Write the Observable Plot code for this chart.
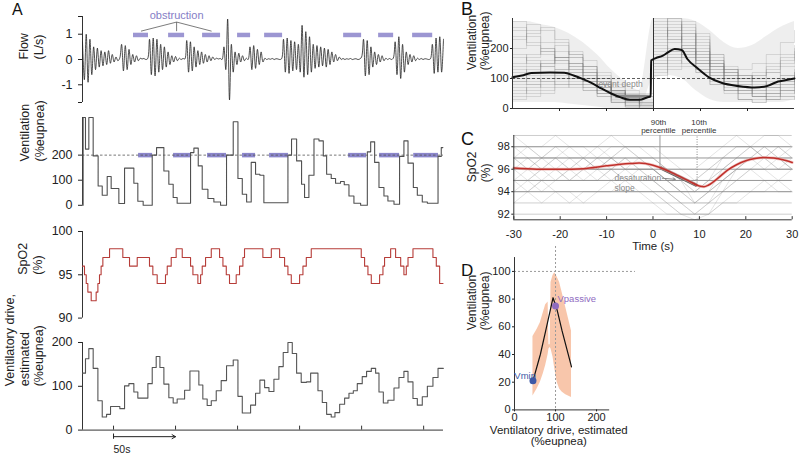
<!DOCTYPE html>
<html><head><meta charset="utf-8">
<script src="https://cdn.jsdelivr.net/npm/d3@7"></script>
<script src="https://cdn.jsdelivr.net/npm/@observablehq/plot@0.6"></script>
<style>
body{margin:0;background:#fff;}
#fig{position:relative;width:800px;height:454px;overflow:hidden;background:#fff;font-family:"Liberation Sans",Arial,sans-serif;}
.panel{position:absolute;}
.letter{position:absolute;color:#111;font-family:"Liberation Sans",Arial,sans-serif;line-height:1;}
</style></head><body><div id="fig"></div>
<script>
// ---------------- DATA ----------------
// Panel A: time (s) axis
const timeTicks = [25, 75, 125, 175, 225, 275];
const scaleBar = {t0: 25, t1: 75, label: "50s"};
const flowStep = 1.5;
const flowV = [
 0.7,-0.8,1.0,-0.9,0.8,
 -0.6,0.5,-0.4,0.45,-0.3,0.35,-0.25,0.3,-0.2,0.35,-0.15,0.2,-0.1,0.1,-0.05,
 0.05,0.6,-0.45,0.55,-0.4,0.4,-0.2,
 0.2,-0.1,0.15,-0.05,0.05,0.02,0.04,0.0,0.03,
 0.8,-0.6,0.85,-0.65,0.8,-0.5,0.6,-0.4,0.5,
 -0.3,0.3,-0.2,0.15,-0.1,0.12,-0.05,0.05,0.0,0.04,0.02,
 0.75,-0.5,0.7,-0.45,0.5,
 -0.3,0.35,-0.2,0.3,-0.15,0.2,-0.1,0.15,-0.05,0.1,0.0,0.05,0.02,0.04,0.0,
 0.5,-0.4,1.6,-1.6,0.6,-0.5,
 0.3,-0.2,0.25,-0.1,0.15,-0.05,0.05,0.0,
 0.5,-0.4,0.55,-0.35,0.4,-0.2,0.3,
 -0.1,0.05,0.0,0.03,0.01,0.04,0.0,0.03,0.02,0.0,0.03,
 0.8,-0.5,0.85,-0.55,0.75,-0.45,0.7,-0.4,0.6,-0.5,
 1.35,-0.7,1.1,-0.6,0.9,-0.5,0.6,-0.35,0.55,-0.3,0.5,-0.25,0.45,-0.3,0.4,-0.2,0.3,-0.1,0.2,-0.05,0.1,
 0.0,0.04,0.0,0.03,0.01,0.04,0.0,0.02,0.03,0.0,0.02,0.1,
 0.8,-0.65,0.75,-0.6,0.5,-0.3,
 0.3,-0.2,0.2,-0.1,0.15,-0.05,0.05,0.0,0.04,0.0,0.05,
 0.7,-0.6,0.9,-0.75,0.6,-0.5,0.3,
 -0.2,0.2,-0.1,0.15,-0.05,0.05,0.0,0.04,0.0,0.03,0.02,0.0,0.03,
 0.6,-0.55,0.85,-0.5,0.9,-0.5,0.8
];
const flowTicks = [-1, 0, 1];
const obsLabel = "obstruction";
const obsFlow = [[41.1,53.2],[69.4,82.3],[96.8,111.3],[125,135.5],[146.8,161.3],[210.5,225],[238.7,250.8],[266.1,282.3]];
const obsVent = [[45.2,56.5],[73.4,87.1],[100.8,116.1],[129,139.5],[150.8,166.1],[214.5,229],[239.5,255.6],[267,287]];
// Ventilation (%eupnea), step changes
const ventTicks = [0, 100, 200];
const ventThreshold = 200;
const ventT = [0,0.5,2.4,5.1,8.6,12.6,15.9,19.9,23.1,29.3,33.9,41.4,44.6,48.9,56.2,59.7,65.6,69.6,73.1,76.3,87.1,89.8,93.3,96.5,101.1,105.9,111.3,116.1,121.5,125.3,128.8,132.3,136.0,139.5,143.0,146.2,165.6,168.5,172.6,176.6,179.0,182.5,186.6,190.6,194.1,196.8,200.5,204.0,208.0,211.0,214.8,218.8,224.2,229.6,232.3,235.5,239.0,243.0,246.2,251.1,255.6,259.1,262.4,266.7,269.9,273.9,278.0,286.6,289.2,290.5];
const ventV = [0,350,224,350,197,77,40,115,67,7,148,88,16,0,200,230,137,84,31,8,210,228,157,64,27,13,0,200,333,107,44,13,171,124,120,10,200,264,177,84,31,120,264,257,197,124,107,88,95,82,37,8,0,213,253,171,71,37,17,4,195,257,168,71,40,13,8,195,230,230];
// SpO2 (%)
const spo2Ticks = [90, 95, 100];
const spo2T = [0,1.6,3.0,4.3,7.0,11.0,12.4,13.7,15.0,16.4,21.8,32.5,37.9,44.1,54.0,56.7,60.2,66.9,68.3,71.5,75.5,80.4,87.1,89.0,93.0,95.2,96.5,99.2,103.8,110.5,113.2,115.9,118.5,123.9,126.6,129.3,130.6,145.4,152.2,158.9,162.9,165.6,168.3,175.0,177.7,180.4,184.4,224.7,227.4,230.1,232.8,239.5,242.2,243.5,248.4,252.4,256.5,259.1,261.0,262.4,266.4,282.5,285.2,287.9,290.6];
const spo2V = [96,95,94,93,92,93,94,95,96,97,98,97,96,97,96,95,94,95,96,97,98,97,96,95,94,95,96,97,98,97,96,95,94,95,96,97,98,97,98,97,96,95,94,95,96,97,98,97,96,95,94,95,96,97,98,97,96,95,96,97,98,97,96,94,94];
// Ventilatory drive, estimated (%eupnea)
const driveTicks = [0, 100, 200];
const driveT = [0,2.4,5.1,8.6,12.4,15.9,19.4,22.6,30.1,33.9,37.4,41.4,44.6,52.7,56.2,59.4,62.4,65.6,69.6,73.1,76.3,82.3,86.6,93.8,97.0,100.5,103.8,107.8,111.8,116.1,121.5,125.3,128.8,135.5,139.5,143.0,146.8,150.3,154.3,158.3,161.8,165.6,169.1,172.6,176.3,180.6,183.9,189.8,193.3,196.8,200.5,203.5,207.3,211.3,214.8,218.3,221.5,225.5,229.0,232.8,236.3,239.0,242.5,246.2,251.1,255.1,259.1,262.4,266.4,269.9,273.9,278.0,282.5,286.6,290.9];
const driveV = [130,163,186,141,67,30,36,54,49,101,106,87,73,106,143,168,143,105,74,62,71,91,135,103,71,56,67,90,113,147,160,77,39,57,84,114,97,88,116,145,177,200,175,130,109,110,130,90,63,36,30,40,59,73,84,90,106,122,134,141,130,87,62,68,96,120,134,110,72,57,76,100,120,141,141];

// Panels B & C: event-aligned time grid (s)
const traceT = [-30,-27,-24,-21,-18,-15,-12,-9,-6,-3,0,3,6,9,12,15,18,21,24,27,30];
const eventOnset = 0;
const eupnea = 100;
const bYTicks = [0, 100, 200];
const bXTicks = [-20, -10, 0, 10, 20];
const bTraces = [
 [150,180,200,160,120,90,60,30,15,5,250,290,230,150,110,80,60,50,70,100,130],
 [90,110,140,170,150,120,80,40,20,10,160,200,240,200,140,100,70,40,30,50,70],
 [260,220,180,150,130,100,70,45,25,15,290,300,200,120,90,70,80,100,120,110,90],
 [60,80,100,120,140,110,90,60,30,20,130,170,210,250,180,120,80,50,40,60,80],
 [120,140,160,130,100,80,50,20,5,0,220,250,200,150,100,60,30,20,40,60,90],
 [200,250,270,230,180,140,100,60,40,25,180,220,270,240,160,110,100,120,150,180,210],
 [40,60,80,100,120,100,80,60,50,40,140,160,150,120,80,60,50,60,80,100,120],
 [290,260,220,170,130,90,50,20,5,0,240,280,260,190,130,80,50,40,60,80,110],
 [100,90,110,130,150,140,110,80,60,50,170,190,210,180,150,130,110,90,80,90,100],
 [80,120,150,190,170,130,90,50,25,10,300,260,220,160,100,60,30,20,30,40,60],
 [170,150,140,120,100,70,40,20,10,5,150,180,200,170,140,110,90,110,140,170,190],
 [130,100,90,80,70,60,50,35,25,15,190,230,250,220,180,140,100,70,50,40,30],
 [230,280,260,220,170,120,80,45,30,20,260,240,190,130,80,50,30,30,50,70,90],
 [70,50,60,80,90,80,70,55,45,35,120,150,170,160,140,120,130,150,180,220,260],
 [180,160,120,100,80,60,40,25,10,5,200,260,280,210,150,90,60,40,50,80,120],
 [50,70,90,110,100,90,70,50,30,20,110,140,180,190,160,130,110,100,120,150,180],
 [270,240,200,160,140,110,80,50,30,10,270,230,180,140,120,100,90,80,90,110,140],
 [110,130,150,170,190,160,120,70,40,25,230,270,290,230,170,120,70,40,30,30,40],
 [30,40,50,70,80,70,60,45,35,30,100,130,140,130,110,90,70,60,70,90,110],
 [240,210,190,170,150,120,90,60,35,15,210,190,170,150,130,110,100,110,130,160,200],
 [140,170,190,210,180,140,100,55,20,0,280,300,250,180,120,80,60,70,100,140,170],
 [90,80,70,90,110,100,80,60,45,40,150,170,190,170,150,130,110,90,70,60,50]
];
const bHazeLo = [20,20,20,20,15,10,5,0,0,0,100,110,100,60,30,20,20,20,20,20,30];
const bHazeHi = [290,290,280,270,250,220,180,130,90,60,300,300,300,290,260,220,200,210,240,270,290];
const bMeanT = [-30,-28,-26,-22,-19,-17,-15,-13,-11,-9,-7,-5,-3,-1.5,-0.6,-0.5,0.5,2,3,4.5,6,7.2,9.3,11.8,14.6,18,21.5,24,25,26.5,28,30];
const bMeanV = [104,110,118,120,119,110,98,84,66,50,37,29,29,36,41,160,168,176,186,198,195,165,135,104,85,75,70,74,80,90,94,100];
const eventDepth = {t0: -8, t1: -0.4, v: 41, label: "event depth"};

const cYTicks = [92, 94, 96, 98];
const cXTicks = [-30, -20, -10, 0, 10, 20, 30];
const spo2Levels = [92, 93, 94, 95, 96, 97, 98, 99];
const cTraces = [
 [97,98,97,98,97,97,98,97,98,97,97,96,95,94,95,96,97,98,97,98,97],
 [96,95,96,96,95,96,96,97,96,96,95,94,93,92,93,95,96,97,97,96,96],
 [95,96,95,95,96,95,96,96,97,96,96,95,94,93,94,95,96,96,97,97,96],
 [98,97,97,98,98,97,97,98,98,98,97,96,96,95,96,97,98,98,98,97,98],
 [94,95,94,95,95,96,95,96,95,95,94,93,92,92,93,94,95,96,96,95,95],
 [97,96,96,97,96,96,97,96,97,97,96,95,94,94,95,97,97,98,97,97,97],
 [96,97,96,96,97,97,96,97,96,96,96,95,95,93,94,96,97,97,98,98,97],
 [93,94,93,94,94,93,94,95,94,94,93,92,92,91.5,92,93,94,94,95,94,94],
 [99,98,98,99,98,98,98,99,98,98,98,97,96,96,97,98,99,98,99,99,98],
 [95,95,96,95,96,96,96,95,96,96,96,95,94,93,93,94,96,97,96,96,96],
 [97,97,96,97,97,96,97,97,96,97,96,95,94,94,95,96,97,97,97,96,97],
 [98,98,97,97,98,98,97,97,98,97,97,96,95,95,96,97,98,98,97,98,98],
 [96,96,97,96,96,97,96,96,96,95,95,94,93,93,94,95,96,96,96,97,96],
 [95,94,95,96,95,95,95,96,95,96,95,94,93,92,92,94,95,96,95,95,96],
 [97,96,97,97,96,97,96,97,97,96,96,95,95,94,94,95,96,97,98,97,96],
 [94,94,95,94,93,94,94,94,95,94,94,93,92,92,92,93,93,94,94,95,94]
];
const cMeanT = [-30,-25,-20,-15,-10,-5,-3,0,1.5,5,8,10,11,12,14,16,18,20,22,24,26,28,30];
const cMeanV = [96.1,96.0,96.0,96.05,96.3,96.5,96.55,96.35,96.15,95.5,94.9,94.5,94.45,94.6,95.2,95.9,96.4,96.75,96.95,97.05,97.0,96.85,96.6];
const pct90 = {t: 1.5, v: 96.15, label: "90th\npercentile"};
const pct10 = {t: 9.5, v: 94.55, label: "10th\npercentile"};
const desatNote = {t: -8.3, v: 94.78, label: "desaturation\nslope", arrowFrom: [2.0, 95.2], arrowTo: [4.8, 95.1]};

// Panel D
const dXTicks = [0, 100, 200];
const dYTicks = [0, 20, 40, 60, 80, 100];
const dXMax = 232, dYMax = 110;
const dLineDrive = [45, 63, 76, 94, 104, 116, 139];
const dLineVent = [21, 40, 57, 81, 72, 57, 31];
const dBandDrive = [45,55,63,70,76,82,84,87,89,94,98,104,110,116,125,139];
const dBandLo = [10,15,20,26,32,40,44,45,44,38,30,20,15,13,11,9];
const dBandHi = [53,58,63,70,76,78,47,47,92,97,99,96,92,85,74,57];
const vmin = {d: 45, v: 21, label: "Vmin"};
const vpassive = {d: 100, v: 75, label: "Vpassive"};

// ---------------- STYLE ----------------
const FONT = '"Liberation Sans", Arial, Helvetica, sans-serif';
const OBS = "#9c96d2", OBS2 = "#8b86cb", RED = "#b63c38", BLUE = "#3d59a6", PURPLE = "#8f6bbf";
const AX = "#333";

const fig = document.getElementById("fig");
function panel([x0, x1, y0, y1], [l, t, r, b], opts) {
  const width = x1 - x0 + l + r, height = y1 - y0 + t + b;
  const {fontSize = 12, ...rest} = opts;
  const svg = Plot.plot({
    width, height, marginLeft: l, marginRight: r, marginTop: t, marginBottom: b,
    style: {background: "transparent", overflow: "visible", fontFamily: FONT, fontSize: fontSize + "px", color: "#222"},
    ...rest
  });
  const div = document.createElement("div");
  div.className = "panel";
  Object.assign(div.style, {left: (x0 - l) + "px", top: (y0 - t) + "px", width: width + "px", height: height + "px"});
  div.appendChild(svg);
  fig.appendChild(div);
}
function letter(txt, left, top, size) {
  const s = document.createElement("div");
  s.className = "letter"; s.textContent = txt;
  Object.assign(s.style, {left: left + "px", top: top + "px", fontSize: size + "px"});
  fig.appendChild(s);
}

const fmt = d => String(d);
const flowRows = flowV.map((v, i) => ({t: i * flowStep, v}));
const ventRows = ventT.map((t, i) => ({t, v: ventV[i]}));
const spo2Rows = spo2T.map((t, i) => ({t, v: spo2V[i]}));
const driveRows = driveT.map((t, i) => ({t, v: driveV[i]}));
const labelT = (obsFlow[1][0] + obsFlow[1][1]) / 2;
const aYlab = {frameAnchor: "left", rotate: -90, fontSize: 12.5, fill: "#222"};

// ---- A: Flow ----
panel([82, 443, 16, 102], [82, 16, 17, 8], {
  x: {domain: [0, 291], axis: null},
  y: {domain: [-1.7, 1.7]},
  marks: [
    Plot.ruleX([0], {stroke: AX}),
    Plot.axisY({ticks: [-1.7, ...flowTicks, 1.7], tickFormat: d => flowTicks.includes(d) ? fmt(d) : "", tickSize: 4, tickPadding: 6, fontSize: 12.5, label: null}),
    Plot.line(flowRows, {x: "t", y: "v", stroke: "#222", strokeWidth: 0.8, curve: "catmull-rom"}),
    Plot.ruleY(obsFlow, {x1: d => d[0], x2: d => d[1], y: 0.97, stroke: OBS, strokeWidth: 4.5}),
    Plot.link(obsFlow.slice(0, 3), {x1: labelT, y1: 1.48, x2: d => (d[0] + d[1]) / 2, y2: 1.12, stroke: "#444", strokeWidth: 0.7}),
    Plot.text([obsLabel], {x: labelT, y: 1.76, text: d => d, fill: "#857dc6", fontSize: 11}),
    Plot.text(["Flow\n(L/s)"], {...aYlab, dx: -52, lineHeight: 1.2})
  ]
});

// ---- A: Ventilation ----
panel([82, 443, 116.5, 204.3], [82, 6, 17, 5], {
  x: {domain: [0, 291], axis: null},
  y: {domain: [0, 350]},
  marks: [
    Plot.ruleX([0], {stroke: AX}),
    Plot.axisY({ticks: ventTicks, tickSize: 4, tickPadding: 6, fontSize: 12.5, label: null, tickFormat: fmt}),
    Plot.ruleY(obsVent, {x1: d => d[0], x2: d => d[1], y: ventThreshold, stroke: OBS2, strokeWidth: 4.5}),
    Plot.ruleY([ventThreshold], {stroke: "#555", strokeDasharray: "2.5,2", strokeWidth: 0.8}),
    Plot.line(ventRows, {x: "t", y: "v", curve: "step-after", stroke: "#505050", strokeWidth: 1.1}),
    Plot.text(["Ventilation\n(%eupnea)"], {...aYlab, dx: -51, lineHeight: 1.2})
  ]
});

// ---- A: SpO2 ----
panel([82, 443, 230.7, 317.3], [82, 6, 17, 6], {
  x: {domain: [0, 291], axis: null},
  y: {domain: [90, 100]},
  marks: [
    Plot.ruleX([0], {stroke: AX}),
    Plot.axisY({ticks: spo2Ticks, tickSize: 4, tickPadding: 6, fontSize: 12.5, label: null, tickFormat: fmt}),
    Plot.line(spo2Rows, {x: "t", y: "v", curve: "step-after", stroke: RED, strokeWidth: 1.1}),
    Plot.text(["SpO2\n(%)"], {...aYlab, dx: -53, lineHeight: 1.2})
  ]
});

// ---- A: Drive ----
panel([82, 443, 341.7, 429.3], [82, 6, 17, 24], {
  x: {domain: [0, 291], axis: null},
  y: {domain: [0, 200]},
  marks: [
    Plot.ruleX([0], {y1: 0, y2: 200, stroke: AX}),
    Plot.ruleY([0], {stroke: AX}),
    Plot.ruleX(timeTicks, {y1: 0, y2: 9, stroke: AX}),
    Plot.axisY({ticks: driveTicks, tickSize: 4, tickPadding: 6, fontSize: 12.5, label: null, tickFormat: fmt}),
    Plot.line(driveRows, {x: "t", y: "v", curve: "step-after", stroke: "#555", strokeWidth: 1.1}),
    Plot.arrow([scaleBar], {x1: "t0", x2: "t1", y1: -15, y2: -15, stroke: "#222", strokeWidth: 1, headLength: 6}),
    Plot.ruleX([scaleBar.t0], {y1: -9, y2: -21, stroke: "#222"}),
    Plot.text([scaleBar], {x: "t0", y: -45, text: "label", textAnchor: "start", fontSize: 10.5, fill: "#222"}),
    Plot.text(["Ventilatory drive,\nestimated\n(%eupnea)"], {...aYlab, dx: -58.5, lineHeight: 1.15})
  ]
});

// ---- B ----
const bTraceRows = bTraces.flatMap((tr, k) => tr.map((v, i) => ({id: k, t: traceT[i], v})));
const bHazeRows = traceT.map((t, i) => ({t, lo: bHazeLo[i], hi: bHazeHi[i]}));
const bMeanRows = bMeanT.map((t, i) => ({t, v: bMeanV[i]}));
panel([512, 794, 18.3, 108.3], [52, 12, 6, 6], {
  fontSize: 11,
  x: {domain: [-30, 30]},
  y: {domain: [0, 300]},
  marks: [
    Plot.areaY(bHazeRows, {x: "t", y1: "lo", y2: "hi", fill: "#c8c8c8", fillOpacity: 0.3, curve: "monotone-x"}),
    Plot.line(bTraceRows, {x: "t", y: "v", z: "id", curve: "step-after", stroke: "#707070", strokeOpacity: 0.34, strokeWidth: 0.6}),
    Plot.ruleX([eventOnset], {stroke: "#333", strokeWidth: 1}),
    Plot.ruleY([eupnea], {stroke: "#333", strokeDasharray: "3,2", strokeWidth: 0.8}),
    Plot.ruleY([eventDepth], {x1: "t0", x2: "t1", y: "v", stroke: "#888", strokeWidth: 3}),
    Plot.line(bMeanRows, {x: "t", y: "v", stroke: "#111", strokeWidth: 2, curve: "monotone-x"}),
    Plot.text([eventDepth], {x: d => d.t0 + 1, y: d => d.v + 40, text: "label", fill: "#8a8a8a", fontSize: 8.5}),
    Plot.ruleX([-30], {stroke: AX}),
    Plot.ruleY([0], {stroke: AX}),
    Plot.axisY({ticks: bYTicks, tickSize: 2, tickPadding: 2, fontSize: 11, label: null, tickFormat: fmt}),
    Plot.axisX({ticks: bXTicks, tickSize: 3, tickFormat: () => "", label: null}),
    Plot.text(["Ventilation\n(%eupnea)"], {frameAnchor: "left", dx: -34, dy: 6.7, rotate: -90, fontSize: 12, lineHeight: 1.1, fill: "#222"})
  ]
});

// ---- C ----
const cTraceRows = cTraces.flatMap((tr, k) => tr.map((v, i) => ({id: k, t: traceT[i], v})));
const cMeanRows = cMeanT.map((t, i) => ({t, v: cMeanV[i]}));
panel([513.3, 791.7, 135, 219.3], [53.3, 20, 8.3, 35], {
  fontSize: 11,
  x: {domain: [-30, 30]},
  y: {domain: [91.5, 99]},
  marks: [
    Plot.ruleY(spo2Levels.filter(d => d >= 94 && d <= 98), {stroke: "#444", strokeOpacity: 0.7, strokeWidth: 0.8}),
    Plot.ruleY(spo2Levels.filter(d => d < 94 || d > 98), {stroke: "#666", strokeOpacity: 0.4, strokeWidth: 0.8}),
    Plot.line(cTraceRows, {x: "t", y: "v", z: "id", stroke: "#888", strokeOpacity: 0.38, strokeWidth: 0.6}),
    Plot.ruleX([pct90], {x: "t", y1: "v", y2: 99, stroke: "#999", strokeWidth: 1}),
    Plot.ruleX([pct10], {x: "t", y1: "v", y2: 99, stroke: "#888", strokeDasharray: "1,1.5"}),
    Plot.link([pct90], {x1: pct90.t, y1: pct90.v, x2: pct10.t, y2: pct10.v, stroke: "#555", strokeWidth: 3.5}),
    Plot.line(cMeanRows, {x: "t", y: "v", stroke: "#e9a9a5", strokeWidth: 3, curve: "monotone-x", strokeOpacity: 0.6}),
    Plot.line(cMeanRows, {x: "t", y: "v", stroke: "#c0302b", strokeWidth: 1.5, curve: "monotone-x"}),
    Plot.text([desatNote], {x: "t", y: "v", text: "label", textAnchor: "start", fill: "#8a8a8a", fontSize: 8.5, lineHeight: 1.1}),
    Plot.arrow([desatNote], {x1: d => d.arrowFrom[0], y1: d => d.arrowFrom[1], x2: d => d.arrowTo[0], y2: d => d.arrowTo[1], stroke: "#888", strokeWidth: 1, headLength: 4}),
    Plot.ruleX([-30], {stroke: AX}),
    Plot.ruleY([91.5], {stroke: AX}),
    Plot.ruleX(cXTicks, {y1: 91.5, y2: 91.78, stroke: AX}),
    Plot.axisY({ticks: cYTicks, tickSize: 2, tickPadding: 2, fontSize: 11, label: null, tickFormat: fmt}),
    Plot.axisX({ticks: cXTicks, tickSize: 0, tickPadding: 10, fontSize: 11, label: null, tickFormat: fmt}),
    Plot.text(["Time (s)"], {frameAnchor: "bottom", dy: 30, fontSize: 11.5, fill: "#222"}),
    Plot.text([pct90], {x: "t", y: 99, text: "label", lineAnchor: "bottom", dy: -2, dx: -1.5, fontSize: 8, lineHeight: 1.05, fill: "#333"}),
    Plot.text([pct10], {x: "t", y: 99, text: "label", lineAnchor: "bottom", dy: -2, dx: 2, fontSize: 8, lineHeight: 1.05, fill: "#333"}),
    Plot.text(["SpO2\n(%)"], {frameAnchor: "left", dx: -35, dy: 4.5, rotate: -90, fontSize: 12, lineHeight: 1.1, fill: "#222"})
  ]
});

// ---- D ----
const dLineRows = dLineDrive.map((d, i) => ({d, v: dLineVent[i]}));
const dBandRows = dBandDrive.map((d, i) => ({d, lo: dBandLo[i], hi: dBandHi[i]}));
panel([514, 635, 245.9, 409.3], [54, 10, 12, 42], {
  fontSize: 11,
  x: {domain: [0, 295]},
  y: {domain: [0, 118]},
  marks: [
    Plot.areaY(dBandRows, {x: "d", y1: "lo", y2: "hi", fill: "#f8c3a6", fillOpacity: 0.95}),
    Plot.ruleY([eupnea], {stroke: "#9a9a9a", strokeDasharray: "2,2"}),
    Plot.ruleX([eupnea], {stroke: "#9a9a9a", strokeDasharray: "2,2"}),
    Plot.ruleY([0], {x1: 0, x2: dXMax, stroke: AX}),
    Plot.ruleX([0], {y1: 0, y2: dYMax, stroke: AX}),
    Plot.line(dLineRows, {x: "d", y: "v", stroke: "#111", strokeWidth: 1.2}),
    Plot.dot([vmin], {x: "d", y: "v", r: 3.5, fill: BLUE}),
    Plot.dot([vpassive], {x: "d", y: "v", r: 3.5, fill: PURPLE}),
    Plot.text([vmin], {x: "d", y: "v", text: "label", textAnchor: "end", dx: 3, dy: -5, fill: BLUE, fontSize: 9.5}),
    Plot.text([vpassive], {x: "d", y: "v", text: "label", textAnchor: "start", dx: 2, dy: -7, fill: PURPLE, fontSize: 9.5}),
    Plot.axisY({ticks: dYTicks, tickSize: 2, tickPadding: 2, fontSize: 11, label: null, tickFormat: fmt}),
    Plot.axisX({ticks: dXTicks, tickSize: 2, tickPadding: 1, fontSize: 11, label: null, tickFormat: fmt}),
    Plot.text(["Ventilatory drive, estimated\n(%eupnea)"], {x: dXMax / 2 - 8, frameAnchor: "bottom", lineAnchor: "top", dy: 16, fontSize: 11.5, lineHeight: 0.95, fill: "#222"}),
    Plot.text(["Ventilation\n(%eupnea)"], {frameAnchor: "left", dx: -36, dy: 2, rotate: -90, fontSize: 12, lineHeight: 1.1, fill: "#222"})
  ]
});

letter("A", 12, 2, 16);
letter("B", 461, 0, 18);
letter("C", 461, 130, 18);
letter("D", 461, 262, 17);
</script></body></html>
